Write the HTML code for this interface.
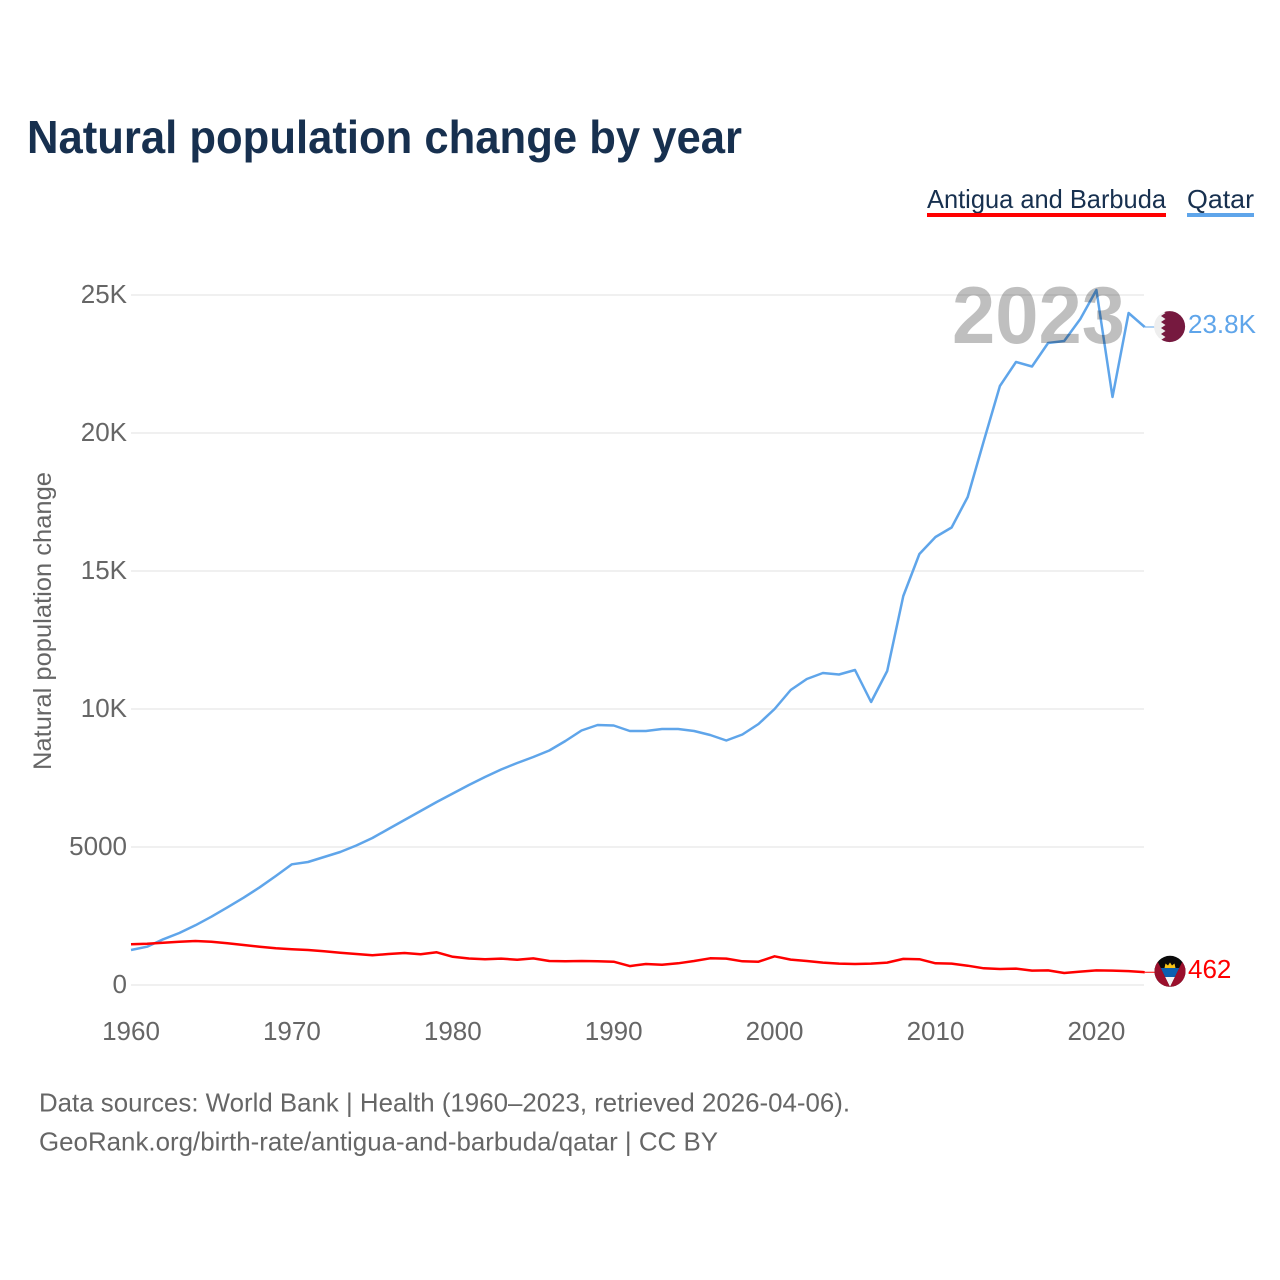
<!DOCTYPE html>
<html>
<head>
<meta charset="utf-8">
<style>
html,body{margin:0;padding:0;background:#fff;width:1280px;height:1280px;overflow:hidden}
svg{display:block}
text{font-family:"Liberation Sans",sans-serif}
</style>
</head>
<body>
<svg id="chart" width="1280" height="1280" viewBox="0 0 1280 1280" xmlns="http://www.w3.org/2000/svg">
<defs>
<clipPath id="flag-clip-qa"><circle cx="1169.6" cy="326.6" r="15.5"/></clipPath>
<clipPath id="flag-clip-ag"><circle cx="1170" cy="971.3" r="15.5"/></clipPath>
</defs>
<text x="27" y="153" font-size="46" font-weight="700" fill="#17304f" textLength="715" lengthAdjust="spacingAndGlyphs">Natural population change by year</text>

<g>
<g>
<text x="927" y="208" font-size="26" fill="#17304f" textLength="239" lengthAdjust="spacingAndGlyphs">Antigua and Barbuda</text>
<rect x="927" y="213" width="239" height="4" fill="#ff0000"/>
</g>
<g>
<text x="1187" y="208" font-size="26" fill="#17304f" textLength="67" lengthAdjust="spacingAndGlyphs">Qatar</text>
<rect x="1187" y="213" width="67" height="4" fill="#5fa5ea"/>
</g>
</g>

<text transform="translate(51,621) rotate(-90)" text-anchor="middle" font-size="25" fill="#666" textLength="298" lengthAdjust="spacingAndGlyphs">Natural population change</text>

<g id="grid"></g>
<g id="y-ticks"></g>
<g id="x-ticks"></g>
<g id="series"></g>

<text x="952" y="343" font-size="81" font-weight="700" fill="#000" fill-opacity="0.25" textLength="173" lengthAdjust="spacingAndGlyphs">2023</text>

<g clip-path="url(#flag-clip-qa)">
<rect x="1154" y="311" width="32" height="32" fill="#eeeeee"/>
<polygon fill="#76193f" points="1186,310 1161,310 1165.5,313 1161,316 1165.5,319 1161,322 1165.5,325 1161,328 1165.5,331 1161,334 1165.5,337 1161,340 1165.5,343 1186,343"/>
</g>

<g clip-path="url(#flag-clip-ag)">
<rect x="1154" y="955" width="32" height="33" fill="#0a0a0a"/>
<polygon fill="#f7c518" points="1164.5,968 1165.5,963.5 1168,965.5 1170,962.5 1172,965.5 1174.5,963.5 1175.5,968"/>
<polygon fill="#0b5fb0" points="1160.7,968 1179.3,968 1175,977 1165,977"/>
<polygon fill="#f4f4f4" points="1165,977 1175,977 1170,987"/>
<polygon fill="#9a0f2c" points="1153,955 1154.5,955 1170,987 1153,988"/>
<polygon fill="#9a0f2c" points="1187,955 1185.5,955 1170,987 1187,988"/>
</g>
</svg>
<script>
const years = [1960,1961,1962,1963,1964,1965,1966,1967,1968,1969,1970,1971,1972,1973,1974,1975,1976,1977,1978,1979,1980,1981,1982,1983,1984,1985,1986,1987,1988,1989,1990,1991,1992,1993,1994,1995,1996,1997,1998,1999,2000,2001,2002,2003,2004,2005,2006,2007,2008,2009,2010,2011,2012,2013,2014,2015,2016,2017,2018,2019,2020,2021,2022,2023];
const qatarValues = [1268,1388,1656,1884,2163,2475,2815,3163,3540,3949,4373,4457,4638,4819,5054,5326,5652,5978,6304,6630,6938,7246,7536,7808,8043,8261,8496,8840,9221,9420,9402,9203,9203,9275,9275,9203,9058,8859,9076,9457,10000,10688,11087,11304,11250,11413,10254,11377,14094,15616,16232,16576,17681,19710,21703,22572,22409,23261,23333,24130,25181,21304,24348,23841];
const antiguaValues = [1475,1496,1533,1569,1594,1569,1511,1449,1388,1330,1293,1268,1221,1170,1123,1076,1123,1159,1112,1185,1020,960,930,955,915,965,870,860,870,860,845,685,760,735,785,870,968,955,860,845,1040,920,870,810,775,760,775,810,945,935,785,775,700,605,580,595,520,530,435,485,530,520,505,462];
const yTickValues = [0,5000,10000,15000,20000,25000];
const yTickLabels = ["0","5000","10K","15K","20K","25K"];
const xTickValues = [1960,1970,1980,1990,2000,2010,2020];
const qatarEndLabel = "23.8K";
const antiguaEndLabel = "462";

const NS = "http://www.w3.org/2000/svg";
function xScale(year){ return 131 + (year - 1960) * 16.09; }
function yScale(v){ return 985 - v * 0.0276; }
function mk(tag, attrs, parent){
  const el = document.createElementNS(NS, tag);
  for (const k in attrs) el.setAttribute(k, attrs[k]);
  parent.appendChild(el);
  return el;
}
const grid = document.getElementById("grid");
const yTicks = document.getElementById("y-ticks");
const xTicks = document.getElementById("x-ticks");
const series = document.getElementById("series");

yTickValues.forEach(function(v, i){
  const line = mk("line", {x1:131, x2:1144, y1:yScale(v), y2:yScale(v), stroke:"#ebebeb", "stroke-width":1.5}, grid);
  
  
  const t = mk("text", {x:127, y:yScale(v)+8, "text-anchor":"end", "font-size":26, fill:"#666"}, yTicks);
  
  
  t.textContent = yTickLabels[i];
});

xTickValues.forEach(function(yr){
  const t = mk("text", {x:xScale(yr), y:1040, "text-anchor":"middle", "font-size":26, fill:"#666"}, xTicks);
  
  
  t.textContent = yr;
});

function drawSeries(values, color, label, flagX, labelX){
  const pts = values.map(function(v, i){ return xScale(years[i]).toFixed(1) + "," + yScale(v).toFixed(1); }).join(" ");
  const path = mk("polyline", {points:pts, fill:"none", stroke:color, "stroke-width":2.5, "stroke-linejoin":"round"}, series);
  
  
  const last = values[values.length - 1];
  const endY = yScale(last);
  const conn = mk("line", {x1:xScale(years[years.length-1]), x2:flagX, y1:endY, y2:endY, stroke:color, "stroke-width":1}, series);
  
  
  const t = mk("text", {x:labelX, y:endY+6, "font-size":26, fill:color}, series);
  
  
  t.textContent = label;
}
drawSeries(qatarValues, "#5fa5ea", qatarEndLabel, 1156, 1188);
drawSeries(antiguaValues, "#ff0000", antiguaEndLabel, 1156, 1188);
</script>
<div style="position:absolute;left:0;top:0">
<svg width="1280" height="1280" style="position:absolute;left:0;top:0;pointer-events:none">
<text x="39" y="1111.5" font-size="26" fill="#666" textLength="811" lengthAdjust="spacingAndGlyphs">Data sources: World Bank | Health (1960–2023, retrieved 2026-04-06).</text>
<text x="39" y="1150.5" font-size="26" fill="#666" textLength="679" lengthAdjust="spacingAndGlyphs">GeoRank.org/birth-rate/antigua-and-barbuda/qatar | CC BY</text>
</svg>
</div>
</body>
</html>
